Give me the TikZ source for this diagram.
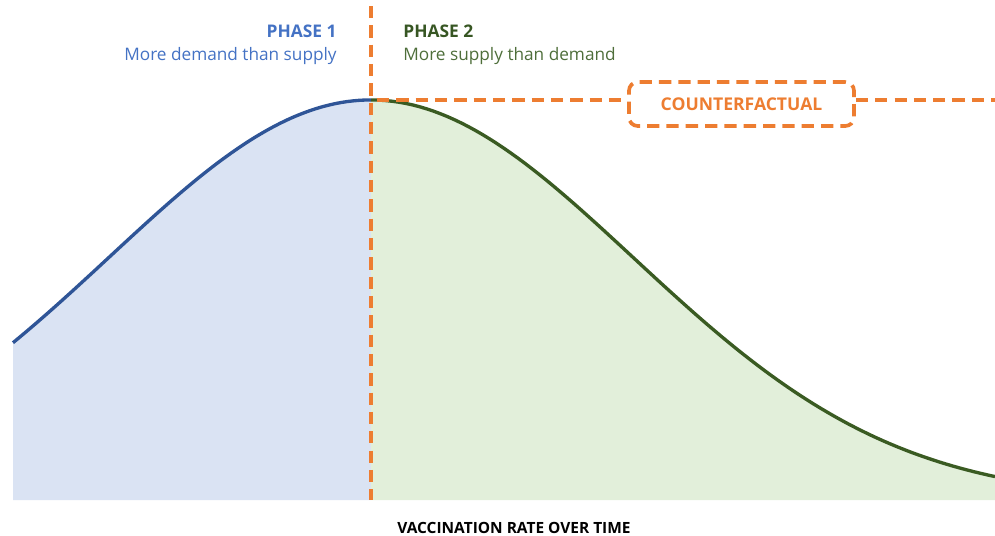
\documentclass[tikz,border=0pt]{standalone}
\usepackage{fontspec}
\setmainfont{Open Sans}
\definecolor{blueline}{HTML}{2F5597}
\definecolor{bluefill}{HTML}{DAE3F3}
\definecolor{greenline}{HTML}{3A5B22}
\definecolor{greenfill}{HTML}{E2EFDA}
\definecolor{orangeC}{HTML}{ED7D31}
\definecolor{phaseblue}{HTML}{4472C4}
\definecolor{phasegreen}{HTML}{375623}
\definecolor{phasegreenlt}{HTML}{4E6E3A}
\tikzset{
  curveline/.style={line width=1.9pt, line join=round},
  orangedash/.style={draw=orangeC, line width=2.1pt, dash pattern=on 7pt off 4pt},
  cfbox/.style={orangedash, rounded corners=5pt, minimum width=225*0.02cm, minimum height=44*0.02cm,
    text=orangeC, font=\bfseries\fontsize{10}{12}\selectfont},
  headtxt/.style={font=\bfseries\fontsize{9.9}{12}\selectfont, inner sep=0pt},
  subtxt/.style={font=\fontsize{9.8}{12}\selectfont, inner sep=0pt},
}
\begin{document}
\begin{tikzpicture}[x=0.02cm,y=-0.02cm,
  declare function={gauss(\x)=500-400*exp(-0.5*((\x-371)/262)^2);}]
\useasboundingbox (0,0) rectangle (995,535);
% fills
\fill[bluefill] (13,500) -- plot[domain=13:371,samples=60] (\x,{gauss(\x)}) -- (371,500) -- cycle;
\fill[greenfill] (371,500) -- plot[domain=371:995,samples=90] (\x,{gauss(\x)}) -- (995,500) -- cycle;
% curves
\draw[curveline, blueline] plot[domain=13:371,samples=60] (\x,{gauss(\x)});
\draw[curveline, greenline] plot[domain=371:995,samples=90] (\x,{gauss(\x)});
% coordinates
\coordinate (vtop) at (371,6);
\coordinate (vbot) at (371,500);
\coordinate (peak) at (377,100);
\coordinate (hright) at (995,100);
% counterfactual box
\node[cfbox] (cf) at (741.5,104) {COUNTERFACTUAL};
\draw[orangedash] (peak) -- (peak -| cf.west);
\draw[orangedash] (cf.east |- hright) -- (hright);
\draw[orangedash] (vtop) -- (vbot);
% texts
\node[headtxt, text=phaseblue, anchor=east] (p1) at (337,31) {PHASE 1};
\node[subtxt, text=phaseblue, anchor=east] (p1s) at (337,56) {More demand than supply};
\node[headtxt, text=phasegreen, anchor=west] (p2) at (403,31) {PHASE 2};
\node[subtxt, text=phasegreenlt, anchor=west] (p2s) at (403,56) {More supply than demand};
\node[font=\bfseries\fontsize{8.8}{10}\selectfont, inner sep=0pt] (xl) at (514,528) {VACCINATION RATE OVER TIME};
\end{tikzpicture}
\end{document}
